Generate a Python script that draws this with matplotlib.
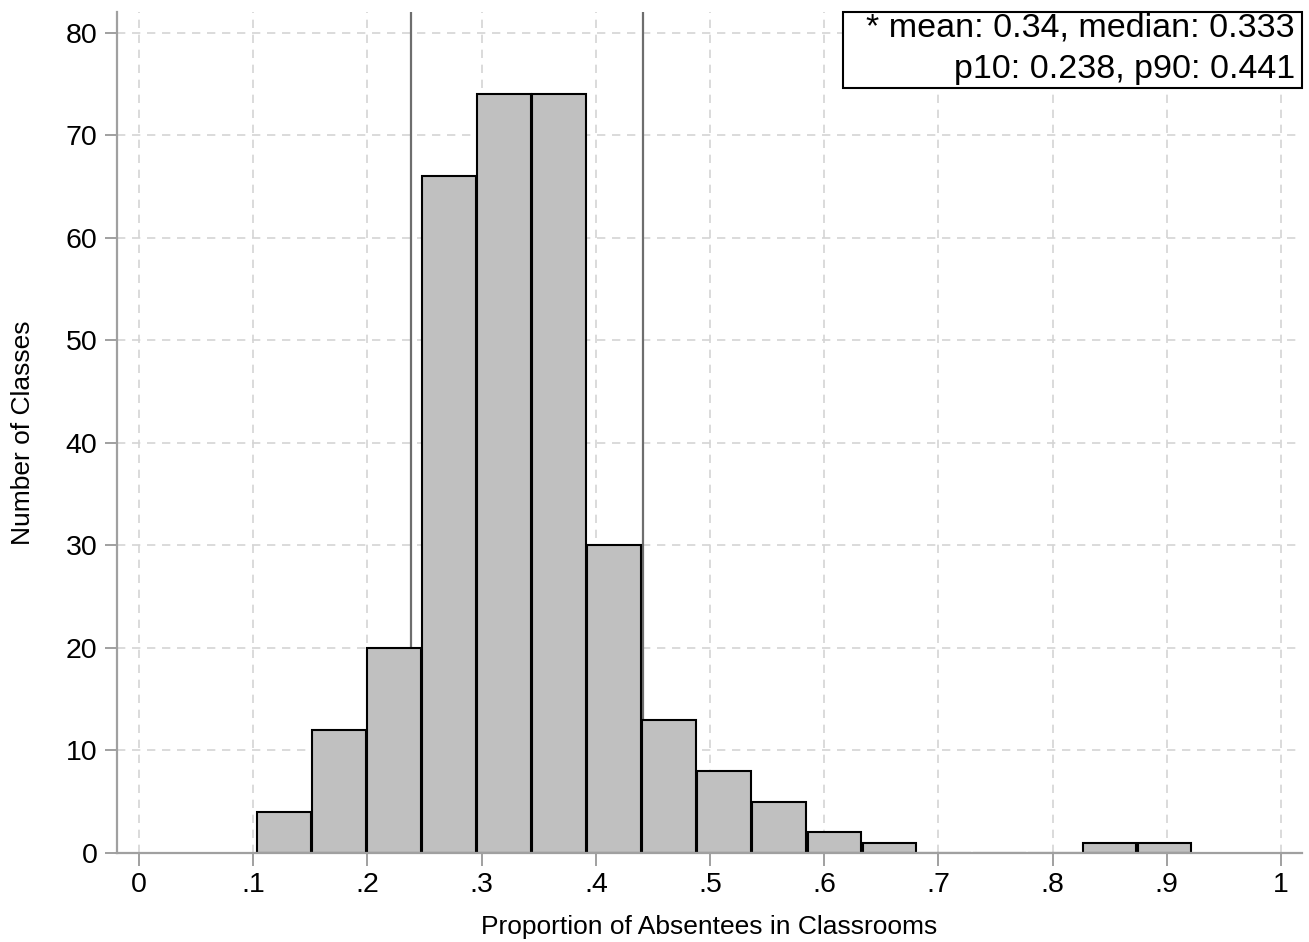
import matplotlib
matplotlib.use("Agg")
import matplotlib.pyplot as plt
from matplotlib.patches import Rectangle
import numpy as np

plt.rcParams['font.family'] = ['Liberation Sans', 'DejaVu Sans']

# Data
bin_start = 0.1034
bin_width = 0.0482
counts = [4, 12, 20, 66, 74, 74, 30, 13, 8, 5, 2, 1, 0, 0, 0, 1, 1]
p10 = 0.238
p90 = 0.441
stats_lines = ["* mean: 0.34, median: 0.333", "p10: 0.238, p90: 0.441"]
xticks = [0, .1, .2, .3, .4, .5, .6, .7, .8, .9, 1]
xticklabels = ["0", ".1", ".2", ".3", ".4", ".5", ".6", ".7", ".8", ".9", "1"]
yticks = [0, 10, 20, 30, 40, 50, 60, 70, 80]
xlabel = "Proportion of Absentees in Classrooms"
ylabel = "Number of Classes"

fig = plt.figure(figsize=(13.09, 9.42), dpi=100)
ax = fig.add_axes([117/1309, 1-853/942, (1302-117)/1309, (853-12)/942])

edges = bin_start + bin_width*np.arange(len(counts))
# reference lines behind bars
for v in (p10, p90):
    ax.axvline(v, color='#6e6e6e', lw=1.6, zorder=1)
ax.bar(edges, counts, width=bin_width*0.975, align='edge', color='#c0c0c0',
       edgecolor='black', linewidth=1.5, zorder=2)

ax.set_xlim(-0.0193, 1.0184)
ax.set_ylim(0, 82)
ax.set_xticks(xticks)
ax.set_xticklabels(xticklabels)
ax.set_yticks(yticks)
ax.grid(True, color='#d4d4d4', linestyle=(0, (5, 4)), linewidth=1.2, zorder=0)
ax.set_axisbelow(True)
for s in ('top', 'right'):
    ax.spines[s].set_visible(False)
for s in ('left', 'bottom'):
    ax.spines[s].set_color('#a0a0a0')
    ax.spines[s].set_linewidth(1.6)
ax.tick_params(axis='both', colors='#a0a0a0', labelcolor='black', labelsize=20.5,
               length=9, width=1.4)
ax.tick_params(axis='x', pad=5)
ax.tick_params(axis='y', pad=5)
ax.set_xlabel(xlabel, fontsize=19, labelpad=12)
ax.set_ylabel(ylabel, fontsize=19, labelpad=22)

# stats box in the top-right corner
ax.add_patch(Rectangle((0.6127, 0.9096), 1.0 - 0.6127, 1.0 - 0.9096, transform=ax.transAxes,
                       facecolor='white', edgecolor='black', linewidth=1.5,
                       zorder=5, clip_on=False))
for line, yb in zip(stats_lines, (0.9703, 0.9215)):
    ax.text(0.9941, yb, line, transform=ax.transAxes, ha='right', va='baseline',
            fontsize=24.5, zorder=6)

fig.savefig("out.png", dpi=100)
